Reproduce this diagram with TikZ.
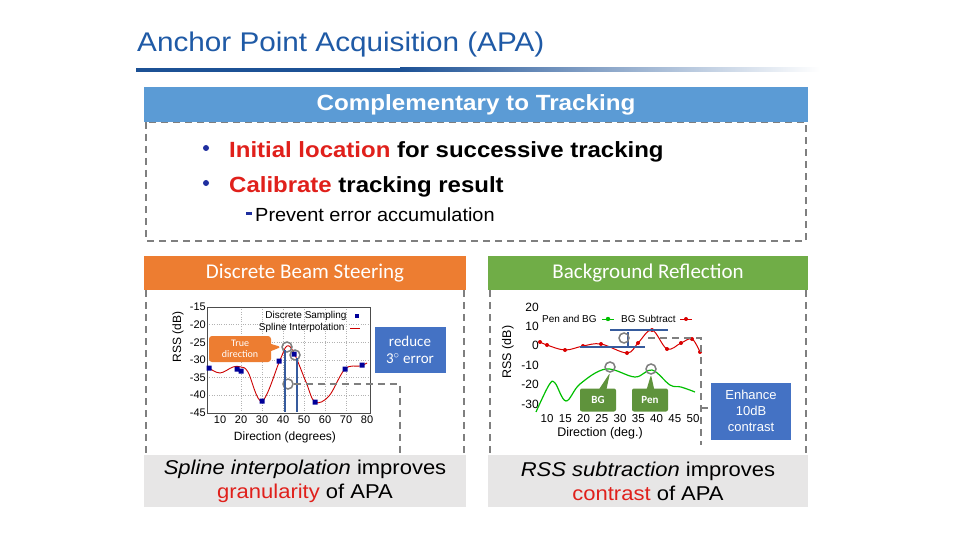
\documentclass[tikz,border=0pt]{standalone}
\usepackage{fontspec}
\setmainfont{Liberation Sans}
\newfontfamily\calfont{Carlito}
\usetikzlibrary{shapes.callouts}
\definecolor{tblue}{HTML}{1F5AA6}
\definecolor{hblue}{HTML}{5B9BD5}
\definecolor{bblue}{HTML}{4472C4}
\definecolor{horange}{HTML}{ED7D31}
\definecolor{hgreen}{HTML}{70AD47}
\definecolor{gbox}{HTML}{E7E6E6}
\definecolor{dgray}{HTML}{7F7F7F}
\definecolor{tred}{HTML}{E0201B}
\definecolor{pblue}{HTML}{1F2F9F}
\begin{document}
\begin{tikzpicture}[x=1pt,y=-1pt,
  dbox/.style={draw=dgray,line width=2.5pt,dash pattern=on 7pt off 5pt},
  circ/.style={draw=dgray,line width=1.5pt,circle,minimum size=10pt,inner sep=0},
  bl/.style={draw=bblue!80!black,line width=1.3pt}]
\useasboundingbox (0,0) rectangle (960,540);
\fill[white] (0,0) rectangle (960,540);
% title
\node[anchor=base west,text=tblue,font=\fontsize{27}{30}\selectfont,inner sep=0] (title) at (137,52) {\scalebox{1.1}[1]{Anchor Point Acquisition (APA)}};
\fill[tblue!90!black] (136,68) rectangle (400,72);
\shade[left color=tblue!90!black,right color=white] (400,68) rectangle (820,72);
% top box
\draw[dbox] (146,122) rectangle (806,241);
\fill[hblue] (144,87) rectangle (808,122);
\node[text=white,font=\bfseries\fontsize{22}{24}\selectfont] (h1) at (476,105) {\scalebox{1.1}[1]{Complementary to Tracking}};
\fill[pblue] (206,148) circle (3pt) (206,183) circle (3pt);
\node[anchor=base west,inner sep=0,font=\bfseries\fontsize{22}{24}\selectfont] (b1) at (229,158) {\scalebox{1.09}[1]{\textcolor{tred}{Initial location} for successive tracking}};
\node[anchor=base west,inner sep=0,font=\bfseries\fontsize{22}{24}\selectfont] (b2) at (229,193) {\scalebox{1.09}[1]{\textcolor{tred}{Calibrate} tracking result}};
\fill[pblue] (246,212) rectangle (252,215);
\node[anchor=base west,inner sep=0,font=\fontsize{19}{20}\selectfont] (b3) at (255,221) {\scalebox{1.05}[1]{Prevent error accumulation}};
% left panel
\draw[dbox] (146,290) -- (146,455) (464,290) -- (464,455);
\fill[horange] (144,256) rectangle (466,290);
\node[text=white,font=\calfont\fontsize{21}{22}\selectfont] (h2) at (305,273) {Discrete Beam Steering};
\fill[gbox] (144,455) rectangle (466,507);
\node[align=center,font=\fontsize{20}{24}\selectfont] (c2) at (305,481) {\scalebox{1.1}[1]{\textit{Spline interpolation} improves}\\\scalebox{1.1}[1]{\textcolor{tred}{granularity} of APA}};
% left plot
\begin{scope}
\draw[gray!60,dotted] \foreach \d in {20,30,...,70} {(220+\d*2.1-21,307) -- (220+\d*2.1-21,413)}
  \foreach \v in {20,25,...,40} {(207,307+\v*3.53-53) -- (370,307+\v*3.53-53)};
\draw[black!70] (207,307) rectangle (370,413);
\foreach \v in {15,20,...,45} \node[anchor=east,font=\fontsize{11}{12}\selectfont,inner sep=1pt] at (207,307+\v*3.53-53) {-\v};
\foreach \d in {10,20,...,80} \node[anchor=north,font=\fontsize{11}{12}\selectfont,inner sep=1pt] at (220+\d*2.1-21,415) {\d};
\node[font=\fontsize{12}{13}\selectfont] (xl) at (285,437) {Direction (degrees)};
\node[font=\fontsize{12}{13}\selectfont,rotate=90] (yl) at (178,337) {RSS (dB)};
\draw[red!80!black,line width=0.9pt] plot[smooth,tension=0.6] coordinates {
 (209,368)(220,373)(233,367)(241,367)(248,372)(262,401)(280,360)(287,346)(294,353)(306,382)(315,402)(329,396)(345,369)(360,366)(367,363)};
\fill[blue!60!black] \foreach \p in {(209,368),(237,369),(241,371),(262,401),(279,361),(294,354),(315,402),(345,369),(362,365)} {\p ++(-2.5,-2.5) rectangle ++(5,5)};
\node[anchor=east,font=\fontsize{10}{11}\selectfont] (lg1) at (350,316) {Discrete Sampling};
\fill[blue!60!black] (355,314) rectangle ++(4,4);
\node[anchor=east,font=\fontsize{10}{11}\selectfont] (lg2) at (348,328) {Spline Interpolation};
\draw[red!80!black] (350,328) -- (360,328);
\node[circ] (k1) at (287,347) {};
\node[circ] (k2) at (295,355) {};
\node[circ] (k3) at (288,384) {};
\draw[bl] (285,350) -- (285,412) (297,358) -- (297,412);
\draw[dbox,line width=2pt] (k3.east) -- (400,384) -- (400,455);
\node[rectangle callout,fill=horange,text=white,rounded corners=3pt,callout absolute pointer={(k1.west)},minimum width=62pt,minimum height=26pt,align=center,font=\calfont\fontsize{10}{11}\selectfont,inner sep=1pt] (td) at (240,349) {True\\direction};
\node[fill=bblue,text=white,minimum width=71pt,minimum height=46pt,align=center,font=\calfont\fontsize{15}{17}\selectfont,inner sep=1pt] (r3) at (410,350) {reduce\\3$^\circ$ error};
\end{scope}
% right panel
\draw[dbox] (490,290) -- (490,455) (806,290) -- (806,455);
\fill[hgreen] (488,256) rectangle (808,290);
\node[text=white,font=\calfont\fontsize{21}{22}\selectfont] (h3) at (648,273) {Background Reflection};
\fill[gbox] (488,455) rectangle (808,507);
\node[align=center,font=\fontsize{20}{24}\selectfont] (c3) at (648,481) {\scalebox{1.1}[1]{\textit{RSS subtraction} improves}\\\scalebox{1.1}[1]{\textcolor{tred}{contrast} of APA}};
\begin{scope}
\foreach \v in {20,10,0,-10,-20,-30} \node[anchor=east,font=\fontsize{12}{13}\selectfont,inner sep=1pt] at (540,307+20*1.94-\v*1.94) {\v};
\foreach \d in {10,15,...,50} \node[anchor=north,font=\fontsize{11.5}{12}\selectfont,inner sep=0.5pt] at (547+\d*3.65-36.5,414) {\d};
\node[font=\fontsize{12.5}{13}\selectfont] (xr) at (600,433) {Direction (deg.)};
\node[font=\fontsize{12.5}{13}\selectfont,rotate=90] (yr) at (508,352) {RSS (dB)};
\draw[red!85!black,line width=1pt] plot[smooth,tension=0.6] coordinates {
 (540,342)(547,345)(565,350)(583,346)(601,344)(627,353)(638,343)(652,330)(667,349)(681,343)(692,339)(700,352)};
\fill[red!85!black] \foreach \p in {(540,342),(547,345),(565,350),(583,346),(601,344),(627,353),(638,343),(652,330),(667,349),(681,343),(692,339),(700,352)} {\p circle (2pt)};
\draw[green!75!black,line width=1.2pt] plot[smooth,tension=0.6] coordinates {
 (536,412)(549,385)(555,383)(566,401)(580,384)(606,369)(635,377)(652,370)(670,385)(681,387)(695,392)};
\node[anchor=west,font=\fontsize{10}{11}\selectfont,inner sep=0] (lgp) at (542,319) {Pen and BG};
\draw[green!75!black,line width=1pt] (602,319) -- (614,319); \fill[green!75!black] (608,319) circle (2.2pt);
\node[anchor=west,font=\fontsize{10}{11}\selectfont,inner sep=0] (lgb) at (621,319) {BG Subtract};
\draw[red!85!black,line width=1pt] (680,319) -- (692,319); \fill[red!85!black] (686,319) circle (2pt);
\draw[bl] (610,330) -- (668,330) (580,347) -- (645,347) (628,332) -- (628,346);
\node[circ] (m1) at (624,338) {};
\node[circ] (g1) at (610,367) {};
\node[circ] (g2) at (651,369) {};
\draw[dbox,line width=2pt] (648,338) -- (701,338) -- (701,445);
\draw[dbox,line width=2pt] (701,408) -- (712,408);
\node[rectangle callout,fill=hgreen!85!black,text=white,rounded corners=2pt,callout absolute pointer={(g1.south)},minimum width=36pt,minimum height=23pt,font=\calfont\bfseries\fontsize{11}{12}\selectfont,inner sep=1pt] (bg) at (598,400) {BG};
\node[rectangle callout,fill=hgreen!85!black,text=white,rounded corners=2pt,callout absolute pointer={(g2.south)},minimum width=36pt,minimum height=23pt,font=\calfont\bfseries\fontsize{11}{12}\selectfont,inner sep=1pt] (pen) at (650,400) {Pen};
\node[fill=bblue,text=white,minimum width=80pt,minimum height=57pt,align=center,font=\fontsize{13}{16}\selectfont,inner sep=1pt] (en) at (751,411) {Enhance\\10dB\\contrast};
\end{scope}
\end{tikzpicture}
\end{document}
